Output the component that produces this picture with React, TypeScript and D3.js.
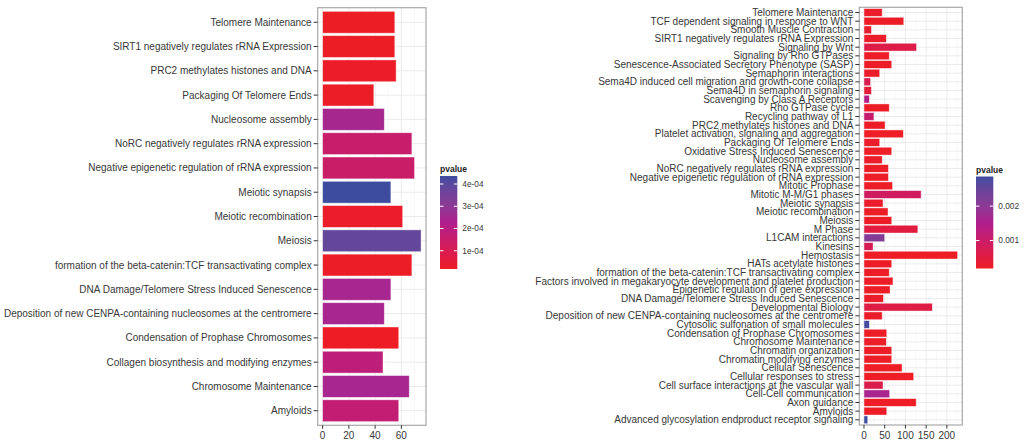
import * as d3 from 'd3'

// left panel: enrichment for the smaller gene set
const LEFT_TERMS = [
  'Telomere Maintenance',
  'SIRT1 negatively regulates rRNA Expression',
  'PRC2 methylates histones and DNA',
  'Packaging Of Telomere Ends',
  'Nucleosome assembly',
  'NoRC negatively regulates rRNA expression',
  'Negative epigenetic regulation of rRNA expression',
  'Meiotic synapsis',
  'Meiotic recombination',
  'Meiosis',
  'formation of the beta-catenin:TCF transactivating complex',
  'DNA Damage/Telomere Stress Induced Senescence',
  'Deposition of new CENPA-containing nucleosomes at the centromere',
  'Condensation of Prophase Chromosomes',
  'Collagen biosynthesis and modifying enzymes',
  'Chromosome Maintenance',
  'Amyloids',
]
const LEFT_COUNT = [55, 55, 56, 39, 47, 68, 70, 52, 61, 75, 68, 52, 47, 58, 46, 66, 58]
const LEFT_PVALUE = [2.0e-5, 2.0e-5, 2.4e-5, 2.2e-5, 2.45e-4, 1.55e-4, 1.45e-4, 4.36e-4, 2.6e-5, 3.85e-4,
  2.3e-5, 2.4e-4, 2.4e-4, 1.8e-5, 1.85e-4, 2.4e-4, 1.7e-4]
const LEFT_X_TICKS = [0, 20, 40, 60]
const LEFT_X_MINOR = [10, 30, 50, 70]
const LEFT_LEGEND_TICKS = [1e-4, 2e-4, 3e-4, 4e-4]
const LEFT_LEGEND_LABELS = ['1e-04', '2e-04', '3e-04', '4e-04']

// right panel: enrichment for the larger gene set
const RIGHT_TERMS = [
  'Telomere Maintenance',
  'TCF dependent signaling in response to WNT',
  'Smooth Muscle Contraction',
  'SIRT1 negatively regulates rRNA Expression',
  'Signaling by Wnt',
  'Signaling by Rho GTPases',
  'Senescence-Associated Secretory Phenotype (SASP)',
  'Semaphorin interactions',
  'Sema4D induced cell migration and growth-cone collapse',
  'Sema4D in semaphorin signaling',
  'Scavenging by Class A Receptors',
  'Rho GTPase cycle',
  'Recycling pathway of L1',
  'PRC2 methylates histones and DNA',
  'Platelet activation, signaling and aggregation',
  'Packaging Of Telomere Ends',
  'Oxidative Stress Induced Senescence',
  'Nucleosome assembly',
  'NoRC negatively regulates rRNA expression',
  'Negative epigenetic regulation of rRNA expression',
  'Mitotic Prophase',
  'Mitotic M-M/G1 phases',
  'Meiotic synapsis',
  'Meiotic recombination',
  'Meiosis',
  'M Phase',
  'L1CAM interactions',
  'Kinesins',
  'Hemostasis',
  'HATs acetylate histones',
  'formation of the beta-catenin:TCF transactivating complex',
  'Factors involved in megakaryocyte development and platelet production',
  'Epigenetic regulation of gene expression',
  'DNA Damage/Telomere Stress Induced Senescence',
  'Developmental Biology',
  'Deposition of new CENPA-containing nucleosomes at the centromere',
  'Cytosolic sulfonation of small molecules',
  'Condensation of Prophase Chromosomes',
  'Chromosome Maintenance',
  'Chromatin organization',
  'Chromatin modifying enzymes',
  'Cellular Senescence',
  'Cellular responses to stress',
  'Cell surface interactions at the vascular wall',
  'Cell-Cell communication',
  'Axon guidance',
  'Amyloids',
  'Advanced glycosylation endproduct receptor signaling',
]
const RIGHT_COUNT = [44, 96, 18, 54, 127, 61, 67, 38, 16, 18, 13, 61, 24, 51, 95, 38, 67, 44, 59, 59,
  69, 138, 46, 58, 67, 130, 50, 22, 226, 67, 61, 70, 63, 47, 165, 44, 13, 55, 54, 67,
  67, 92, 120, 46, 62, 126, 55, 9]
const RIGHT_PVALUE = [2.5e-4, 2.2e-4, 3.0e-4, 2.5e-4, 6.0e-4, 2.2e-4, 2.2e-4, 2.5e-4, 7.0e-4, 4.0e-4,
  1.4e-3, 2.2e-4, 1.1e-3, 2.3e-4, 2.0e-4, 2.4e-4, 2.0e-4, 2.5e-4, 2.2e-4, 2.2e-4,
  2.1e-4, 9.0e-4, 2.6e-4, 2.2e-4, 2.2e-4, 5.0e-4, 2.1e-3, 8.0e-4, 1.9e-4, 2.1e-4,
  2.2e-4, 2.1e-4, 2.2e-4, 2.4e-4, 5.5e-4, 2.4e-4, 2.8e-3, 2.2e-4, 2.2e-4, 2.1e-4,
  2.1e-4, 2.0e-4, 2.0e-4, 6.5e-4, 1.6e-3, 2.0e-4, 2.2e-4, 2.86e-3]
const RIGHT_X_TICKS = [0, 50, 100, 150, 200]
const RIGHT_X_MINOR = [25, 75, 125, 175, 225]
const RIGHT_LEGEND_TICKS = [1e-3, 2e-3]
const RIGHT_LEGEND_LABELS = ['0.001', '0.002']

const FONT = '"Liberation Sans", Arial, sans-serif'
const TEXT = '#383838'

interface PanelProps {
  terms: string[]
  counts: number[]
  pvalues: number[]
  xTicks: number[]
  xMinor: number[]
  legendTicks: number[]
  legendLabels: string[]
  box: { l: number; r: number; t: number; b: number }
  legend: { x: number; t: number; b: number }
  id: string
}

function Panel({ terms, counts, pvalues, xTicks, xMinor, legendTicks, legendLabels, box, legend, id }: PanelProps) {
  const max = d3.max(counts) as number
  const x = d3.scaleLinear().domain([-0.05 * max, 1.05 * max]).range([box.l, box.r])
  const y = d3.scalePoint<string>().domain(terms).range([box.t, box.b]).padding(0.6)
  const bh = y.step() * 0.9

  const [pmin, pmax] = d3.extent(pvalues) as [number, number]
  const color = d3.scaleLinear<string>()
    .domain([pmin, (pmin + pmax) / 2, pmax])
    .range(['#ee1d25', '#ae1f8e', '#3e4c9f'])
    .interpolate(d3.interpolateLab)
  const ly = d3.scaleLinear().domain([pmin, pmax]).range([legend.b, legend.t])
  const stops = d3.range(0, 1.0001, 0.1)
  const lw = 17.3

  return (
    <g>
      <defs>
        <linearGradient id={id} x1="0" y1="1" x2="0" y2="0">
          {stops.map(s => (
            <stop key={s} offset={s} stopColor={color(pmin + s * (pmax - pmin))} />
          ))}
        </linearGradient>
      </defs>

      {/* grid */}
      {xMinor.filter(v => x(v) < box.r).map(v => (
        <line key={'m' + v} x1={x(v)} x2={x(v)} y1={box.t} y2={box.b} stroke="#f3f3f3" strokeWidth={0.6} />
      ))}
      {xTicks.map(v => (
        <line key={'g' + v} x1={x(v)} x2={x(v)} y1={box.t} y2={box.b} stroke="#ebebeb" strokeWidth={1} />
      ))}
      {terms.map(t => (
        <line key={'h' + t} x1={box.l} x2={box.r} y1={y(t)} y2={y(t)} stroke="#ebebeb" strokeWidth={1} />
      ))}

      {/* bars */}
      {terms.map((t, i) => (
        <rect key={'b' + t} x={x(0)} y={(y(t) as number) - bh / 2} width={x(counts[i]) - x(0)} height={bh}
          fill={color(pvalues[i])} stroke="rgba(255,255,255,0.55)" strokeWidth={0.8} />
      ))}

      <rect x={box.l} y={box.t} width={box.r - box.l} height={box.b - box.t} fill="none" stroke="#a8a8a8" strokeWidth={1.2} />

      {/* y axis */}
      {terms.map(t => (
        <g key={'y' + t}>
          <line x1={box.l - 4} x2={box.l} y1={y(t)} y2={y(t)} stroke="#333" strokeWidth={1} />
          <text x={box.l - 6} y={y(t)} dy="0.35em" textAnchor="end" fontSize={10} fill={TEXT} fontFamily={FONT}>{t}</text>
        </g>
      ))}

      {/* x axis */}
      {xTicks.map(v => (
        <g key={'x' + v}>
          <line x1={x(v)} x2={x(v)} y1={box.b} y2={box.b + 3.5} stroke="#333" strokeWidth={1} />
          <text x={x(v)} y={box.b + 10.5} dy="0.35em" textAnchor="middle" fontSize={10} fill={TEXT} fontFamily={FONT}>{v}</text>
        </g>
      ))}

      {/* legend */}
      <text x={legend.x} y={legend.t - 4} fontSize={8.5} fontWeight="bold" fill="#222" fontFamily={FONT}>pvalue</text>
      <rect x={legend.x} y={legend.t} width={lw} height={legend.b - legend.t} fill={`url(#${id})`} />
      {legendTicks.map((v, i) => (
        <g key={'l' + v}>
          <line x1={legend.x} x2={legend.x + 3.5} y1={ly(v)} y2={ly(v)} stroke="#fff" strokeWidth={1} />
          <line x1={legend.x + lw - 3.5} x2={legend.x + lw} y1={ly(v)} y2={ly(v)} stroke="#fff" strokeWidth={1} />
          <text x={legend.x + lw + 5} y={ly(v)} dy="0.35em" fontSize={8.3} fill={TEXT} fontFamily={FONT}>{legendLabels[i]}</text>
        </g>
      ))}
    </g>
  )
}

export default function App() {
  return (
    <>
      <style>{'body{margin:0;background:#fff}'}</style>
      <svg width={1024} height={442} style={{ display: 'block', background: '#fff' }}>
        <Panel id="gl" terms={LEFT_TERMS} counts={LEFT_COUNT} pvalues={LEFT_PVALUE}
          xTicks={LEFT_X_TICKS} xMinor={LEFT_X_MINOR}
          legendTicks={LEFT_LEGEND_TICKS} legendLabels={LEFT_LEGEND_LABELS}
          box={{ l: 317.7, r: 426, t: 7.7, b: 425.3 }}
          legend={{ x: 440, t: 176, b: 269 }} />
        <Panel id="gr" terms={RIGHT_TERMS} counts={RIGHT_COUNT} pvalues={RIGHT_PVALUE}
          xTicks={RIGHT_X_TICKS} xMinor={RIGHT_X_MINOR}
          legendTicks={RIGHT_LEGEND_TICKS} legendLabels={RIGHT_LEGEND_LABELS}
          box={{ l: 859.3, r: 962.3, t: 7.3, b: 425 }}
          legend={{ x: 976, t: 176.5, b: 268.5 }} />
      </svg>
    </>
  )
}
